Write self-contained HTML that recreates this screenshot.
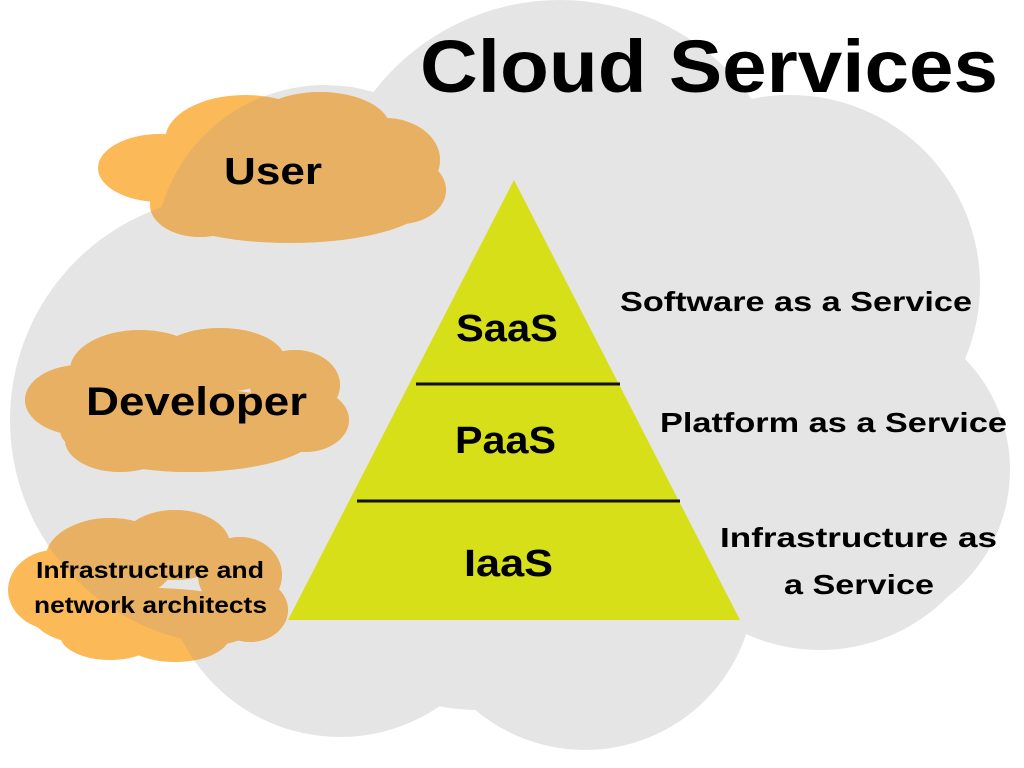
<!DOCTYPE html>
<html><head><meta charset="utf-8"><style>
html,body{margin:0;padding:0;background:#fff;}
svg{display:block;}
text{font-family:"Liberation Sans",sans-serif;font-weight:bold;fill:#000;}
</style></head><body>
<svg width="1024" height="768" viewBox="0 0 1024 768" xmlns="http://www.w3.org/2000/svg">
<defs>
<clipPath id="gc">
  <circle cx="560" cy="235" r="235"/>
  <circle cx="790" cy="285" r="190"/>
  <circle cx="850" cy="470" r="160"/>
  <circle cx="820" cy="470" r="180"/>
  <circle cx="340" cy="560" r="177"/>
  <circle cx="585" cy="580" r="170"/>
  <circle cx="480" cy="480" r="230"/>
  <circle cx="235" cy="420" r="225"/>
  <circle cx="325" cy="255" r="170"/>
</clipPath>
<g id="clouds">
  <ellipse cx="160" cy="168" rx="62" ry="34"/>
  <ellipse cx="245" cy="140" rx="80" ry="45"/>
  <ellipse cx="320" cy="128" rx="70" ry="36"/>
  <ellipse cx="385" cy="160" rx="55" ry="42"/>
  <ellipse cx="400" cy="190" rx="46" ry="34"/>
  <ellipse cx="290" cy="200" rx="140" ry="43"/>
  <ellipse cx="200" cy="205" rx="50" ry="32"/>
  <ellipse cx="80" cy="400" rx="55" ry="35"/>
  <ellipse cx="140" cy="370" rx="70" ry="40"/>
  <ellipse cx="220" cy="360" rx="65" ry="32"/>
  <ellipse cx="295" cy="385" rx="45" ry="35"/>
  <ellipse cx="305" cy="420" rx="44" ry="32"/>
  <ellipse cx="190" cy="430" rx="130" ry="42"/>
  <ellipse cx="120" cy="440" rx="55" ry="32"/>
  <ellipse cx="55" cy="590" rx="47" ry="40"/>
  <ellipse cx="110" cy="560" rx="65" ry="42"/>
  <ellipse cx="175" cy="545" rx="55" ry="35"/>
  <ellipse cx="240" cy="575" rx="42" ry="38"/>
  <ellipse cx="250" cy="610" rx="38" ry="32"/>
  <ellipse cx="150" cy="620" rx="115" ry="32"/>
  <ellipse cx="175" cy="635" rx="55" ry="27"/>
  <ellipse cx="110" cy="635" rx="50" ry="25"/>
</g>
</defs>
<rect x="0" y="0" width="1024" height="768" fill="#e5e5e5" clip-path="url(#gc)"/>
<use href="#clouds" fill="#fbb957"/>
<g clip-path="url(#gc)"><use href="#clouds" fill="#e8b062"/></g>

<polygon points="514,180 288,620 740,620" fill="#d6df17"/>
<line x1="416" y1="384" x2="620" y2="384" stroke="#111" stroke-width="3"/>
<line x1="357" y1="501" x2="680" y2="501" stroke="#111" stroke-width="3"/>

<text x="420" y="92" font-size="74" textLength="578" lengthAdjust="spacingAndGlyphs">Cloud Services</text>
<text x="224" y="184" font-size="38" textLength="98" lengthAdjust="spacingAndGlyphs">User</text>
<text x="86" y="415" font-size="40" textLength="221" lengthAdjust="spacingAndGlyphs">Developer</text>
<text x="36" y="578" font-size="23" textLength="228" lengthAdjust="spacingAndGlyphs">Infrastructure and</text>
<text x="34" y="613" font-size="23" textLength="233" lengthAdjust="spacingAndGlyphs">network architects</text>
<text x="456" y="341" font-size="38" textLength="102" lengthAdjust="spacingAndGlyphs">SaaS</text>
<text x="455" y="453" font-size="38" textLength="101" lengthAdjust="spacingAndGlyphs">PaaS</text>
<text x="464" y="576" font-size="38" textLength="89" lengthAdjust="spacingAndGlyphs">IaaS</text>
<text x="620" y="311" font-size="28" textLength="352" lengthAdjust="spacingAndGlyphs">Software as a Service</text>
<text x="660" y="432" font-size="28" textLength="347" lengthAdjust="spacingAndGlyphs">Platform as a Service</text>
<text x="720" y="547" font-size="28" textLength="277" lengthAdjust="spacingAndGlyphs">Infrastructure as</text>
<text x="784" y="594" font-size="28" textLength="150" lengthAdjust="spacingAndGlyphs">a Service</text>
</svg>
</body></html>
